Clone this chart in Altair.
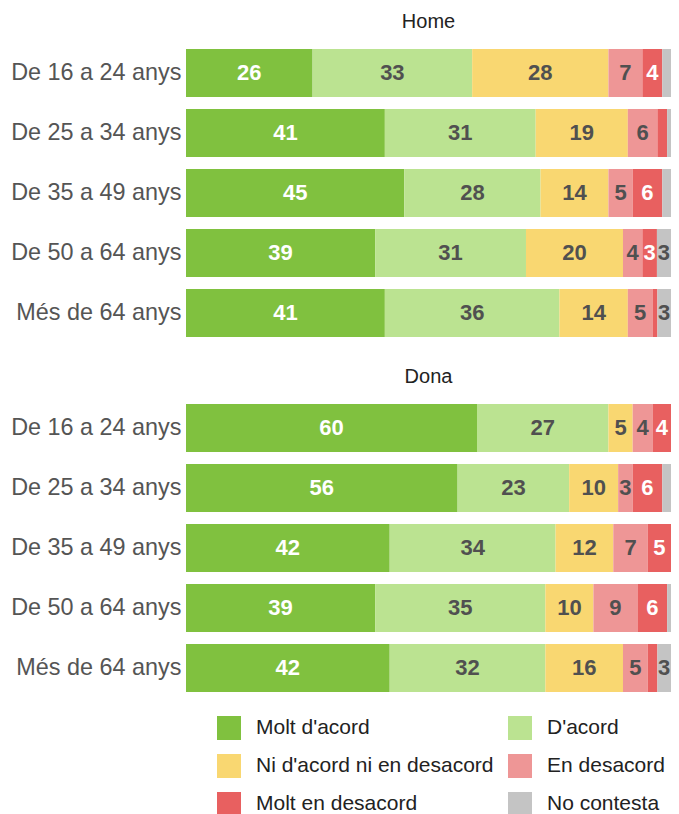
import altair as alt
import pandas as pd

ages = ["De 16 a 24 anys", "De 25 a 34 anys", "De 35 a 49 anys",
        "De 50 a 64 anys", "Més de 64 anys"]
categories = ["Molt d'acord", "D'acord", "Ni d'acord ni en desacord",
              "En desacord", "Molt en desacord", "No contesta"]
colors = ["#80c13f", "#bbe391", "#f9d771", "#ee9696", "#e86060", "#c4c4c4"]
sexes = ["Home", "Dona"]

# Home
home_molt_acord = [26.1, 41.0, 45.0, 39.0, 41.0]
home_acord = [32.9, 31.1, 28.1, 31.1, 36.0]
home_ni = [28.1, 19.0, 14.0, 20.0, 14.1]
home_desacord = [7.0, 6.1, 5.0, 4.0, 5.1]
home_molt_desacord = [4.1, 2.0, 6.1, 3.0, 1.0]
home_nc = [1.8, 0.8, 1.8, 2.9, 2.8]

# Dona
dona_molt_acord = [60.0, 56.0, 42.0, 39.0, 42.0]
dona_acord = [27.1, 23.0, 34.2, 35.1, 32.1]
dona_ni = [5.0, 10.1, 11.9, 9.9, 16.0]
dona_desacord = [4.1, 3.0, 7.1, 9.1, 5.1]
dona_molt_desacord = [3.8, 6.1, 4.8, 6.1, 2.0]
dona_nc = [0.0, 1.8, 0.0, 0.8, 2.8]

series = {
    "Home": [home_molt_acord, home_acord, home_ni, home_desacord,
             home_molt_desacord, home_nc],
    "Dona": [dona_molt_acord, dona_acord, dona_ni, dona_desacord,
             dona_molt_desacord, dona_nc],
}

rows = []
for sex in sexes:
    for ci, (cat, vals) in enumerate(zip(categories, series[sex])):
        for age, v in zip(ages, vals):
            rows.append({"sex": sex, "age": age, "cat": cat, "ci": ci, "value": v})
df = pd.DataFrame(rows)

FONT = "Liberation Sans"


def panel(sex, with_legend):
    base = alt.Chart(df).transform_filter(alt.datum.sex == sex)
    legend = alt.Legend(
        orient="none", legendX=31, legendY=673, columns=2, direction="horizontal",
        title=None,
        symbolType="square", symbolSize=576, symbolStrokeWidth=0,
        symbolOpacity=1, labelFontSize=21, labelFont=FONT,
        labelColor="#222222", labelOffset=15, rowPadding=14,
        columnPadding=14, labelLimit=400, padding=0,
    )
    bars = base.mark_bar().encode(
        y=alt.Y("age:N", sort=ages, title=None,
                scale=alt.Scale(paddingInner=0.2, paddingOuter=0.1),
                axis=alt.Axis(labelFontSize=23.4, labelColor="#555555",
                              labelFont=FONT, labelPadding=5, ticks=False,
                              domain=False, grid=False)),
        x=alt.X("value:Q", stack="zero",
                scale=alt.Scale(domain=[0, 100], nice=False), axis=None),
        color=alt.Color("cat:N", sort=categories,
                        scale=alt.Scale(domain=categories, range=colors),
                        legend=legend if with_legend else None),
        order=alt.Order("ci:Q", sort="ascending"),
    )
    labels = base.transform_stack(
        stack="value", groupby=["age"], as_=["x0", "x1"],
        sort=[alt.SortField("ci", order="ascending")],
    ).transform_calculate(
        mid="(datum.x0 + datum.x1) / 2", lab="round(datum.value)"
    ).transform_filter("datum.lab >= 3").mark_text(
        font=FONT, fontSize=22, fontWeight="bold", baseline="middle",
        align="center",
    ).encode(
        y=alt.Y("age:N", sort=ages),
        x=alt.X("mid:Q"),
        text=alt.Text("lab:Q", format="d"),
        color=alt.condition("datum.ci == 0 || datum.ci == 4",
                            alt.value("#ffffff"), alt.value("#505050")),
    )
    return alt.layer(bars, labels).properties(
        width=485, height=300,
        title=alt.TitleParams(sex, fontSize=20, font=FONT, fontWeight="normal",
                              color="#222222", anchor="middle", offset=11),
    )


chart = alt.vconcat(panel("Home", True), panel("Dona", True), spacing=24).properties(
    padding={"left": 2, "top": 4, "right": 0, "bottom": 0}
).configure_view(stroke=None)

chart.save("out.html", embed_options={"renderer": "svg", "actions": False})
